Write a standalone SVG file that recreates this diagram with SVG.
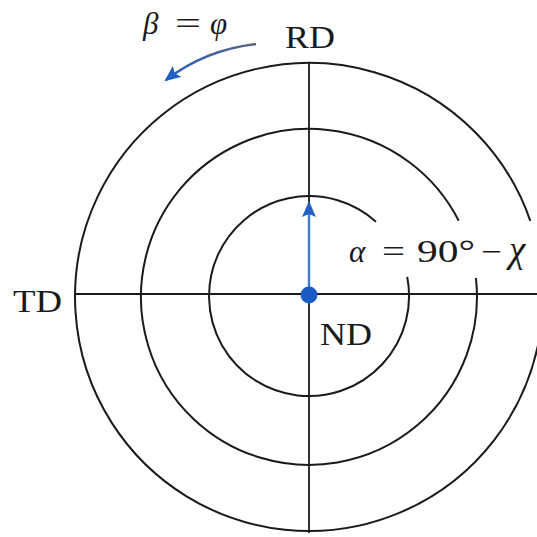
<svg xmlns="http://www.w3.org/2000/svg" width="537" height="537" viewBox="0 0 537 537">
  <style>
    .ring { fill: none; stroke: #1a1a1a; stroke-width: 2; }
    .axis { stroke: #1a1a1a; stroke-width: 1.8; }
    .lbl { font-family: "Liberation Serif", "Times New Roman", serif; font-size: 31px; fill: #1a1a1a; }
    .it { font-style: italic; }
  </style>
  <defs>
    <marker id="headBlue" viewBox="0 0 16 14" refX="14" refY="7" markerWidth="16" markerHeight="14" orient="auto" markerUnits="userSpaceOnUse">
      <path d="M0,0 L16,7 L0,14 L3,7 Z" fill="#1f5fc4"/>
    </marker>
    <linearGradient id="curveGrad" gradientUnits="userSpaceOnUse" x1="256" y1="44" x2="172" y2="76">
      <stop offset="0" stop-color="#5a6580"/>
      <stop offset="1" stop-color="#2a62c2"/>
    </linearGradient>
  </defs>

  <g id="rings">
    <path id="ring-outer" class="ring" d="M537.9,345.7 A234,234 0 1 1 530.3,220.8"/>
    <path id="ring-middle" class="ring" d="M475.9,278 A168,168 0 1 1 458.7,220.7"/>
    <path id="ring-inner" class="ring" d="M407.2,276.9 A100,100 0 1 1 375.9,221.7"/>
  </g>

  <g id="connectors">
    <line id="axis-h" class="axis" x1="75" y1="294" x2="537" y2="294"/>
    <line id="axis-v" class="axis" x1="309" y1="63" x2="309" y2="533"/>
    <line id="arrow-nd" x1="309" y1="294" x2="309" y2="203" stroke="#3b7bd4" stroke-width="2.4" marker-end="url(#headBlue)"/>
    <path id="arrow-beta" d="M256,44 Q205,50 166,80" fill="none" stroke="url(#curveGrad)" stroke-width="2.6" marker-end="url(#headBlue)"/>
  </g>

  <g id="node-center">
    <circle cx="309" cy="295" r="8.5" fill="#1a5cc4"/>
  </g>

  <g id="node-RD"><text class="lbl" x="285" y="48" font-size="33" textLength="50" lengthAdjust="spacingAndGlyphs">RD</text></g>
  <g id="node-TD"><text class="lbl" x="13" y="312" font-size="33" textLength="49" lengthAdjust="spacingAndGlyphs">TD</text></g>
  <g id="node-ND"><text class="lbl" x="320" y="345" font-size="33" textLength="52" lengthAdjust="spacingAndGlyphs">ND</text></g>

  <g id="label-beta">
    <text class="lbl" font-size="34"><tspan class="it" x="143" y="34">β</tspan><tspan x="175" y="34" textLength="26" lengthAdjust="spacingAndGlyphs">=</tspan><tspan class="it" x="210" y="34">φ</tspan></text>
  </g>
  <g id="label-alpha">
    <text class="lbl" font-size="33"><tspan class="it" x="349" y="262">α</tspan><tspan x="382" y="262" textLength="23" lengthAdjust="spacingAndGlyphs">=</tspan><tspan x="417" y="262" textLength="58" lengthAdjust="spacingAndGlyphs">90°</tspan><tspan x="481" y="262" textLength="21" lengthAdjust="spacingAndGlyphs">−</tspan><tspan class="it" x="509" y="262" font-size="37">χ</tspan></text>
  </g>
</svg>
